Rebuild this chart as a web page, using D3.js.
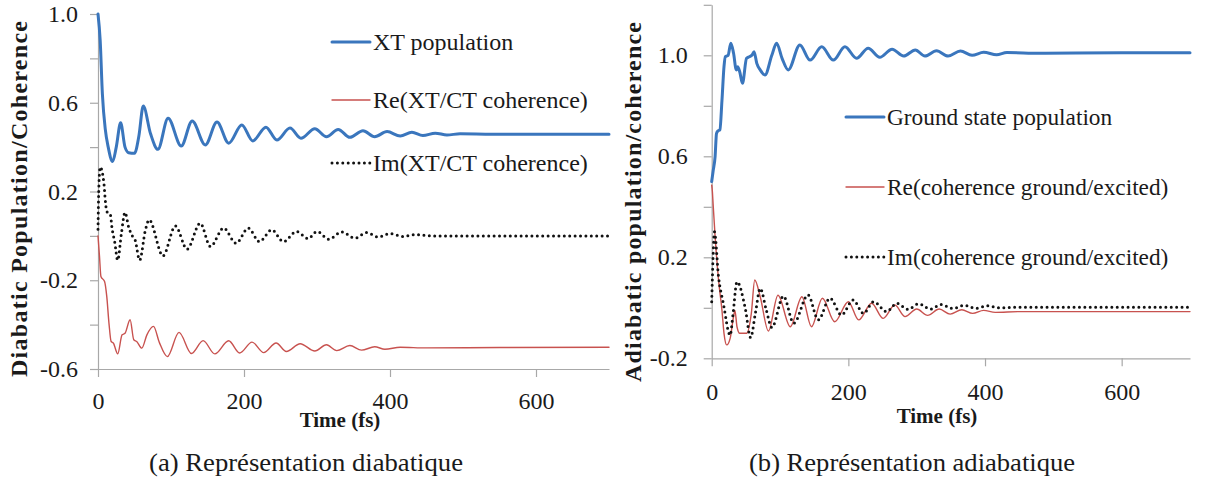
<!DOCTYPE html>
<html>
<head>
<meta charset="utf-8">
<script src="https://cdn.jsdelivr.net/npm/d3@7"></script>
<style>
body { margin: 0; background: #fff; }
svg text { font-family: "Liberation Serif", "Times New Roman", serif; fill: #1a1a1a; }
</style>
</head>
<body>
<div id="chart"></div>
<script>
// ---- panel (a) diabatic : time in fs
const diaPopT = [0, 3, 6, 10, 14, 20, 25, 31, 37, 42, 50, 56, 62, 72, 82, 96, 114, 129, 147, 163, 179, 197, 212, 230, 245, 263, 278, 297, 313, 329, 345, 363, 379, 396, 414, 430, 445, 462, 478, 496, 540, 620, 700];
const diaPopV = [1.0, 0.88, 0.64, 0.48, 0.40, 0.335, 0.40, 0.51, 0.40, 0.375, 0.372, 0.45, 0.585, 0.46, 0.39, 0.53, 0.405, 0.518, 0.41, 0.513, 0.418, 0.50, 0.428, 0.49, 0.432, 0.486, 0.44, 0.483, 0.447, 0.48, 0.444, 0.474, 0.447, 0.47, 0.45, 0.467, 0.452, 0.463, 0.455, 0.46, 0.458, 0.458, 0.458];

const diaReT = [0, 2, 4, 9, 12, 15, 18, 21, 27, 33, 37, 44, 49, 53, 60, 67, 76, 84, 95, 111, 128, 144, 160, 179, 194, 211, 227, 244, 258, 277, 297, 313, 327, 345, 361, 379, 393, 414, 450, 550, 700];
const diaReV = [0.0, -0.09, -0.183, -0.206, -0.273, -0.393, -0.476, -0.483, -0.532, -0.446, -0.439, -0.378, -0.468, -0.476, -0.506, -0.446, -0.408, -0.48, -0.544, -0.435, -0.53, -0.472, -0.532, -0.473, -0.528, -0.479, -0.526, -0.483, -0.521, -0.486, -0.519, -0.491, -0.517, -0.494, -0.515, -0.5, -0.511, -0.502, -0.505, -0.503, -0.502];

const diaImT = [0, 1, 3, 8, 10, 12, 17, 19, 23, 27, 32, 37, 42, 47, 51, 57, 65, 70, 89, 106, 122, 140, 154, 172, 189, 206, 221, 238, 254, 272, 288, 300, 316, 334, 352, 368, 384, 400, 418, 434, 460, 550, 700];
const diaImV = [0.03, 0.2, 0.31, 0.24, 0.16, 0.11, 0.095, 0.04, -0.03, -0.11, 0.01, 0.106, 0.04, 0.0, -0.02, -0.11, 0.027, 0.072, -0.09, 0.045, -0.06, 0.057, -0.048, 0.035, -0.033, 0.035, -0.026, 0.027, -0.026, 0.02, -0.012, 0.02, -0.015, 0.018, -0.01, 0.015, -0.005, 0.01, -0.003, 0.006, 0.0, 0.0, 0.0];

// ---- panel (b) adiabatic
const adiPopT = [0, 2, 5, 7, 9, 12, 15, 18, 20, 24, 28, 32, 36, 38, 41, 45, 51, 55, 59, 62, 66, 71, 78, 88, 95, 103, 112, 129, 144, 161, 178, 195, 212, 229, 246, 264, 281, 298, 312, 329, 346, 364, 381, 398, 417, 432, 480, 600, 700];
const adiPopV = [0.5, 0.54, 0.6, 0.69, 0.70, 0.705, 0.82, 0.955, 0.995, 1.0, 1.048, 1.008, 0.942, 0.955, 0.935, 0.889, 0.988, 0.994, 1.001, 1.014, 0.968, 0.942, 0.922, 1.0, 1.048, 0.988, 0.942, 1.041, 0.981, 1.034, 0.981, 1.034, 0.988, 1.028, 0.992, 1.024, 0.997, 1.021, 0.997, 1.018, 0.997, 1.017, 1.0, 1.012, 1.002, 1.011, 1.008, 1.01, 1.01];

const adiReT = [0, 1, 2, 5, 10, 15, 18, 22, 27, 32, 34, 37, 41, 51, 58, 63, 71, 83, 97, 115, 132, 146, 162, 180, 200, 215, 234, 251, 268, 283, 300, 316, 333, 349, 366, 382, 398, 415, 450, 550, 700];
const adiReV = [0.486, 0.46, 0.414, 0.282, 0.11, -0.009, -0.101, -0.147, -0.121, -0.035, -0.01, -0.075, -0.101, -0.101, -0.022, 0.11, 0.044, -0.092, 0.05, -0.075, 0.044, -0.075, 0.038, -0.055, 0.024, -0.048, 0.018, -0.042, 0.011, -0.035, -0.005, -0.03, -0.005, -0.025, -0.008, -0.022, -0.01, -0.018, -0.015, -0.015, -0.015];

const adiImT = [0, 2, 4, 10, 17, 27, 31, 37, 49, 57, 64, 71, 80, 88, 105, 120, 141, 156, 173, 190, 207, 222, 237, 256, 271, 287, 303, 320, 336, 353, 370, 386, 403, 420, 450, 550, 700];
const adiImV = [0.024, 0.2, 0.301, 0.123, 0.018, -0.108, -0.03, 0.103, 0.0, -0.118, -0.02, 0.077, -0.01, -0.078, 0.046, -0.061, 0.051, -0.048, 0.038, -0.028, 0.031, -0.022, 0.024, -0.015, 0.018, -0.006, 0.016, -0.005, 0.013, -0.003, 0.01, -0.002, 0.008, 0.0, 0.002, 0.002, 0.002];

// ---- axis ticks / labels
const xTicks = [0, 200, 400, 600];
const diaYTicks = [-0.6, -0.4, -0.2, 0, 0.2, 0.4, 0.6, 0.8, 1.0];
const diaYLabels = [-0.6, -0.2, 0.2, 0.6, 1.0];
const adiYTicks = [-0.2, 0, 0.2, 0.4, 0.6, 0.8, 1.0, 1.2];
const adiYLabels = [-0.2, 0.2, 0.6, 1.0];

const diaLegend = ["XT population", "Re(XT/CT coherence)", "Im(XT/CT coherence)"];
const adiLegend = ["Ground state population", "Re(coherence ground/excited)", "Im(coherence ground/excited)"];

var myApp = {};
myApp.w = 1206;
myApp.h = 480;
myApp.styles = [
    {stroke: "#3a76bd", width: 3, dash: null},
    {stroke: "#c8524f", width: 1.4, dash: null},
    {stroke: "#111", width: 3, dash: "0 5.4"}
];

myApp.zip = function (ts, vs) {
    return ts.map(function (t, i) { return {t: t, v: vs[i]}; });
}

myApp.drawPanel = function (svg, p) {
    let x = d3.scaleLinear().domain([0, 700]).range(p.xr);
    let y = d3.scaleLinear().domain(p.yd).range(p.yr);
    let g = svg.append("g");

    // only every other tick gets a label, plain hyphen as minus like the original
    let yAxis = d3.axisLeft(y).tickValues(p.yTicks).tickSize(8).tickSizeOuter(0).tickPadding(p.yPad)
        .tickFormat(function (d) {
            let show = p.yLabels.some(function (l) { return Math.abs(l - d) < 1e-9; });
            return show ? d.toFixed(1) : "";
        });
    let xAxis = d3.axisBottom(x).tickValues(xTicks).tickSize(8).tickSizeOuter(0).tickPadding(p.xPad);

    let yg = g.append("g").attr("transform", "translate(" + p.xr[0] + ",0)").call(yAxis);
    let xg = g.append("g").attr("transform", "translate(0," + p.yr[0] + ")").call(xAxis);
    [yg, xg].forEach(function (a) {
        a.attr("font-family", null).attr("font-size", null);
        a.selectAll("path, line").attr("stroke", "#a8a8a8").attr("stroke-width", 1.2);
        a.selectAll("text").style("font-size", "24px").attr("fill", "#1a1a1a");
    });

    // curves
    let line = d3.line().x(d => x(d.t)).y(d => y(d.v)).curve(d3.curveMonotoneX);
    p.series.forEach(function (s, i) {
        let st = myApp.styles[i];
        g.append("path")
            .datum(s)
            .attr("fill", "none")
            .attr("stroke", st.stroke)
            .attr("stroke-width", st.width)
            .attr("stroke-linecap", "round")
            .attr("stroke-linejoin", "round")
            .attr("stroke-dasharray", st.dash)
            .attr("d", line);
    });

    // legend
    p.legend.forEach(function (name, i) {
        let st = myApp.styles[i];
        let ly = p.legY[i];
        g.append("line")
            .attr("x1", p.legX).attr("x2", p.legX + 38)
            .attr("y1", ly).attr("y2", ly)
            .attr("stroke", st.stroke)
            .attr("stroke-width", st.width)
            .attr("stroke-linecap", "round")
            .attr("stroke-dasharray", st.dash);
        g.append("text")
            .attr("x", p.legX + 41)
            .attr("y", ly + 8)
            .style("font-size", p.legFont + "px")
            .text(name);
    });

    // axis titles
    g.append("text")
        .attr("transform", "translate(" + p.yTitle[0] + "," + p.yTitle[1] + ") rotate(-90)")
        .attr("text-anchor", "middle")
        .attr("textLength", p.yTitle[2])
        .attr("lengthAdjust", "spacing")
        .style("font-size", "24px")
        .style("font-weight", "bold")
        .text(p.yTitleText);
    g.append("text")
        .attr("x", p.xTitle[0]).attr("y", p.xTitle[1])
        .attr("text-anchor", "middle")
        .style("font-size", "21px")
        .style("font-weight", "bold")
        .text("Time (fs)");

    // caption
    g.append("text")
        .attr("x", p.caption[0]).attr("y", p.caption[1])
        .attr("text-anchor", "middle")
        .attr("textLength", p.caption[2])
        .attr("lengthAdjust", "spacingAndGlyphs")
        .style("font-size", "25px")
        .text(p.captionText);
}

myApp.run = function () {
    let svg = d3.select("#chart").append("svg")
        .attr("width", myApp.w)
        .attr("height", myApp.h);
    svg.append("rect").attr("width", myApp.w).attr("height", myApp.h).attr("fill", "#fff");

    myApp.drawPanel(svg, {
        xr: [98, 609], yd: [-0.6, 1.0], yr: [369, 14],
        yTicks: diaYTicks, yLabels: diaYLabels, yPad: 12, xPad: 15,
        series: [myApp.zip(diaPopT, diaPopV), myApp.zip(diaReT, diaReV), myApp.zip(diaImT, diaImV)],
        legend: diaLegend, legX: 332, legY: [42, 100, 163], legFont: 24,
        yTitle: [27, 199, 356], yTitleText: "Diabatic Population/Coherence",
        xTitle: [340, 427],
        caption: [306, 471, 314], captionText: "(a) Représentation diabatique"
    });

    myApp.drawPanel(svg, {
        xr: [711.7, 1190], yd: [-0.2, 1.2], yr: [358.3, 4.8],
        yTicks: adiYTicks, yLabels: adiYLabels, yPad: 16, xPad: 17,
        series: [myApp.zip(adiPopT, adiPopV), myApp.zip(adiReT, adiReV), myApp.zip(adiImT, adiImV)],
        legend: adiLegend, legX: 846, legY: [117, 187, 257], legFont: 23.3,
        yTitle: [641, 202, 360], yTitleText: "Adiabatic population/coherence",
        xTitle: [937, 423],
        caption: [912, 471, 326], captionText: "(b) Représentation adiabatique"
    });
}

window.onload = myApp.run;
</script>
</body>
</html>
